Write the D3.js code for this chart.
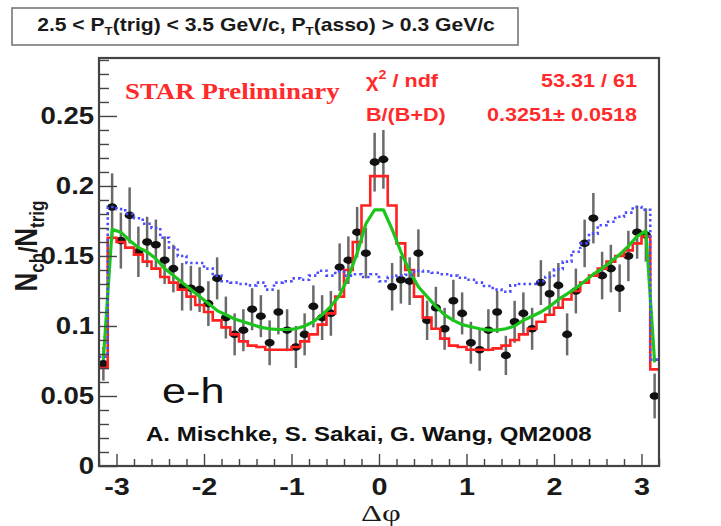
<!DOCTYPE html>
<html>
<head>
<meta charset="utf-8">
<script src="https://cdn.jsdelivr.net/npm/d3@7"></script>
<style>
body { margin: 0; background: #fff; }
svg { display: block; }
</style>
</head>
<body>
<div id="chart"></div>
<script>
// histogram binning: 64 bins of 0.1 in delta phi
var binLow = -3.2;
var binWidth = 0.1;

// data points (black markers) and their errors
var dataY = [0.073,0.185,0.161,0.179,0.153,0.160,0.158,0.147,0.141,0.128,
             0.127,0.126,0.116,0.134,0.106,0.094,0.097,0.112,0.107,0.088,
             0.110,0.097,0.085,0.094,0.114,0.106,0.109,0.142,0.147,0.167,
             0.152,0.217,0.219,0.128,0.133,0.132,0.152,0.104,0.113,0.098,
             0.118,0.109,0.088,0.083,0.097,0.110,0.079,0.103,0.109,0.098,
             0.131,0.123,0.129,0.094,0.125,0.159,0.177,0.136,0.141,0.127,
             0.150,0.167,0.165,0.050];
var dataErr = [0.012,0.024,0.020,0.020,0.018,0.018,0.018,0.017,0.017,0.017,
               0.016,0.016,0.016,0.015,0.015,0.015,0.015,0.015,0.015,0.016,
               0.016,0.015,0.015,0.015,0.015,0.016,0.016,0.017,0.017,0.018,
               0.018,0.021,0.021,0.017,0.017,0.017,0.017,0.014,0.015,0.015,
               0.015,0.015,0.015,0.015,0.015,0.015,0.014,0.015,0.015,0.015,
               0.016,0.016,0.016,0.015,0.016,0.017,0.018,0.017,0.017,0.017,
               0.018,0.019,0.019,0.016];

// red histogram
var redHist = [0.070,0.163,0.160,0.156,0.151,0.146,0.141,0.135,0.131,0.126,
               0.121,0.115,0.110,0.104,0.099,0.094,0.089,0.086,0.085,0.083,
               0.083,0.083,0.085,0.089,0.094,0.101,0.109,0.121,0.140,0.160,
               0.186,0.207,0.207,0.186,0.159,0.140,0.121,0.106,0.098,0.091,
               0.086,0.085,0.083,0.083,0.083,0.084,0.086,0.090,0.094,0.098,
               0.103,0.108,0.113,0.119,0.125,0.131,0.136,0.141,0.146,0.150,
               0.154,0.159,0.164,0.069];

// green curve
var greenCurve = [0.076,0.169,0.167,0.161,0.156,0.153,0.148,0.141,0.136,0.131,
                  0.126,0.121,0.116,0.111,0.108,0.105,0.103,0.101,0.099,0.098,
                  0.0975,0.0975,0.098,0.100,0.103,0.108,0.114,0.122,0.135,0.152,
                  0.173,0.183,0.183,0.169,0.153,0.139,0.128,0.121,0.114,0.108,
                  0.104,0.101,0.0995,0.098,0.097,0.097,0.098,0.100,0.104,0.107,
                  0.110,0.114,0.119,0.123,0.127,0.132,0.137,0.141,0.146,0.151,
                  0.157,0.164,0.168,0.074];

// blue dotted histogram
var blueHist = [0.078,0.185,0.1835,0.180,0.177,0.173,0.170,0.163,0.156,0.150,
                0.145,0.145,0.141,0.136,0.132,0.131,0.130,0.129,0.131,0.126,
                0.131,0.132,0.134,0.133,0.136,0.1395,0.136,0.139,0.136,0.137,
                0.135,0.137,0.132,0.135,0.136,0.1365,0.1395,0.139,0.138,0.137,
                0.136,0.1345,0.133,0.131,0.1286,0.126,0.1245,0.129,0.130,0.130,
                0.132,0.135,0.1405,0.146,0.153,0.159,0.166,0.172,0.1745,0.178,
                0.181,0.185,0.183,0.076];

var xTicks = [-3, -2, -1, 0, 1, 2, 3];
var xTickLabels = ["-3", "-2", "-1", "0", "1", "2", "3"];
var yTicks = [0, 0.05, 0.1, 0.15, 0.2, 0.25];
var yTickLabels = ["0", "0.05", "0.1", "0.15", "0.2", "0.25"];

var sx = 1.2; // the picture is stretched sideways, so is its text
var sans = "'Liberation Sans', Arial, sans-serif";
var serif = "'Liberation Serif', 'Times New Roman', serif";

var svg = d3.select("#chart").append("svg")
    .attr("width", 721)
    .attr("height", 526);

var x = d3.scaleLinear().domain([-3.2, 3.2]).range([99, 659]);
var y = d3.scaleLinear().domain([0, 0.2914]).range([466, 58]);

var bins = dataY.map(function (d, i) {
    return {
        lo: binLow + i * binWidth,
        c: binLow + (i + 0.5) * binWidth,
        v: d, e: dataErr[i],
        red: redHist[i], green: greenCurve[i], blue: blueHist[i]
    };
});
var binHigh = binLow + bins.length * binWidth;

// error bars and markers
var pts = svg.append("g");
pts.selectAll("line")
    .data(bins)
    .enter().append("line")
    .attr("x1", function (d) { return x(d.c); })
    .attr("x2", function (d) { return x(d.c); })
    .attr("y1", function (d) { return y(d.v - d.e); })
    .attr("y2", function (d) { return y(d.v + d.e); })
    .attr("stroke", "#6a6a6a")
    .attr("stroke-width", 2.5);
pts.selectAll("ellipse")
    .data(bins)
    .enter().append("ellipse")
    .attr("cx", function (d) { return x(d.c); })
    .attr("cy", function (d) { return y(d.v); })
    .attr("rx", 5)
    .attr("ry", 3.8)
    .attr("fill", "#111");

// step histograms
function stepPoints(key) {
    var p = bins.map(function (d) { return [d.lo, d[key]]; });
    p.push([binHigh, bins[bins.length - 1][key]]);
    return p;
}
var stepLine = d3.line()
    .x(function (d) { return x(d[0]); })
    .y(function (d) { return y(d[1]); })
    .curve(d3.curveStepAfter);

svg.append("path")
    .attr("d", stepLine(stepPoints("red")))
    .attr("fill", "none")
    .attr("stroke", "#ff2020")
    .attr("stroke-width", 2.6);

svg.append("path")
    .attr("d", d3.line()
        .x(function (d) { return x(d.c); })
        .y(function (d) { return y(d.green); })(bins))
    .attr("fill", "none")
    .attr("stroke", "#1cc41c")
    .attr("stroke-width", 3.2)
    .attr("stroke-linejoin", "round");

svg.append("path")
    .attr("d", stepLine(stepPoints("blue")))
    .attr("fill", "none")
    .attr("stroke", "#4d4dff")
    .attr("stroke-width", 2.6)
    .attr("stroke-dasharray", "2.4,3");

// axes, ticks inside the frame like ROOT
var yMinor = d3.range(0, 0.2905, 0.01).filter(function (v) {
    return Math.abs(v / 0.05 - Math.round(v / 0.05)) > 1e-6;
});
var xMinor = d3.range(-3.2, 3.201, 0.2).filter(function (v) {
    return Math.abs(v - Math.round(v)) > 1e-6;
});

svg.append("g")
    .attr("transform", "translate(99,0)")
    .call(d3.axisLeft(y).tickValues(yMinor).tickSize(-10).tickFormat(""))
    .call(function (g) { g.select(".domain").remove(); });

var yAx = svg.append("g")
    .attr("transform", "translate(99,0)")
    .call(d3.axisLeft(y).tickValues(yTicks).tickSize(-18).tickPadding(4)
        .tickFormat(function (d, i) { return yTickLabels[i]; }));
yAx.select(".domain").remove();
yAx.selectAll("text")
    .attr("font-family", sans)
    .attr("font-weight", "bold")
    .attr("font-size", 23)
    .attr("fill", "#1a1a1a")
    .attr("transform", "scale(" + sx + ",1)");

svg.append("g")
    .attr("transform", "translate(0,466)")
    .call(d3.axisBottom(x).tickValues(xMinor).tickSize(-7).tickFormat(""))
    .call(function (g) { g.select(".domain").remove(); });

var xAx = svg.append("g")
    .attr("transform", "translate(0,466)")
    .call(d3.axisBottom(x).tickValues(xTicks).tickSize(-12).tickPadding(12)
        .tickFormat(function (d, i) { return xTickLabels[i]; }));
xAx.select(".domain").remove();
xAx.selectAll("text")
    .attr("font-family", sans)
    .attr("font-weight", "bold")
    .attr("font-size", 24)
    .attr("fill", "#1a1a1a")
    .attr("transform", "scale(" + sx + ",1)");

svg.selectAll(".tick line")
    .attr("stroke", "#444")
    .attr("stroke-width", 1.4);

// frame
svg.append("rect")
    .attr("x", 99).attr("y", 58)
    .attr("width", 560).attr("height", 408)
    .attr("fill", "none")
    .attr("stroke", "#444")
    .attr("stroke-width", 2.2);

// texts
function label(px, py, size, opts) {
    opts = opts || {};
    return svg.append("text")
        .attr("transform", "translate(" + px + "," + py + ") scale(" + (opts.sx || sx) + ",1)" + (opts.rot ? " rotate(" + opts.rot + ")" : ""))
        .attr("font-family", opts.family || sans)
        .attr("font-weight", opts.weight || "bold")
        .attr("font-size", size)
        .attr("text-anchor", opts.anchor || "start")
        .attr("fill", opts.color || "#1a1a1a");
}
function sub(t, str, size, dy) {
    t.append("tspan").attr("font-size", size).attr("dy", dy).text(str);
}

// header box
svg.append("rect")
    .attr("x", 12).attr("y", 8)
    .attr("width", 506).attr("height", 37)
    .attr("fill", "#fff")
    .attr("stroke", "#777")
    .attr("stroke-width", 1.6);
var head = label(266, 31, 17.6, {anchor: "middle"});
head.append("tspan").text("2.5 < P");
sub(head, "T", 11, 4);
head.append("tspan").attr("dy", -4).text("(trig) < 3.5 GeV/c, P");
sub(head, "T", 11, 4);
head.append("tspan").attr("dy", -4).text("(asso) > 0.3 GeV/c");

label(125, 99, 22.4, {family: serif, color: "#ff2a2a"}).text("STAR Preliminary");

var chi = label(366, 87, 18, {color: "#ff2a2a"});
chi.append("tspan").text("χ");
sub(chi, "2", 12, -8);
chi.append("tspan").attr("dy", 8).text(" / ndf");
label(637, 87, 18, {color: "#ff2a2a", anchor: "end"}).text("53.31 / 61");
label(366, 121, 18, {color: "#ff2a2a"}).text("B/(B+D)");
label(637, 121, 18, {color: "#ff2a2a", anchor: "end"}).text("0.3251\u00b1 0.0518");

label(162, 403, 36, {weight: "normal", color: "#111"}).text("e-h");
label(146, 441, 20, {color: "#111"}).text("A. Mischke, S. Sakai, G. Wang, QM2008");

// y axis title
var yt = label(37, 246, 26, {anchor: "middle", rot: -90});
yt.append("tspan").text("N");
sub(yt, "ch", 17, 6);
yt.append("tspan").attr("dy", -6).attr("font-size", 22).text("/");
yt.append("tspan").text("N");
sub(yt, "trig", 17, 6);

// x axis title
label(381, 521, 22.5, {family: serif, weight: "normal", anchor: "middle", sx: 1.45}).text("Δφ");
</script>
</body>
</html>
